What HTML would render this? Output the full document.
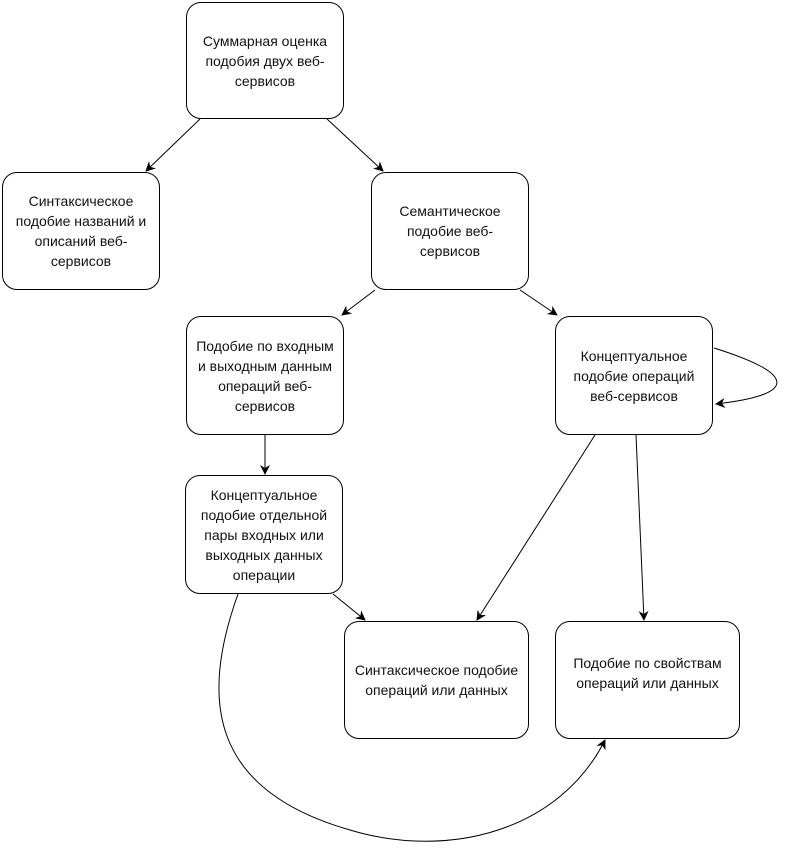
<!DOCTYPE html>
<html><head><meta charset="utf-8"><style>
body{margin:0;width:789px;height:858px;background:#fff;position:relative;overflow:hidden;font-family:"Liberation Sans",Arial,sans-serif;}
.b{position:absolute;box-sizing:border-box;border:1.5px solid #000;border-radius:15px;background:#fff;display:flex;align-items:center;justify-content:center;text-align:center;font-size:14px;line-height:20px;color:#111;padding:0 3px;}
svg{position:absolute;left:0;top:0;}
</style></head><body>
<svg width="789" height="858" viewBox="0 0 789 858">
<defs><marker id="a" markerWidth="10" markerHeight="10" refX="9" refY="5" orient="auto" markerUnits="userSpaceOnUse"><path d="M0,0 L10,5 L0,10 L3,5 z" fill="#000"/></marker></defs>
<g stroke="#000" stroke-width="1" fill="none" marker-end="url(#a)">
<line x1="200" y1="119" x2="146" y2="171"/>
<line x1="327" y1="119" x2="383" y2="171"/>
<line x1="375" y1="290" x2="342" y2="315"/>
<line x1="520" y1="290" x2="557" y2="315"/>
<line x1="265" y1="435" x2="265" y2="474"/>
<line x1="333" y1="594" x2="365" y2="620"/>
<line x1="595" y1="435" x2="477" y2="620"/>
<line x1="636" y1="435" x2="644" y2="620"/>
<path d="M714,348 C800,375 795,395 716,404"/>
<path d="M238,594 C200,700 210,790 350,830 C450,860 560,830 605,740"/>
</g>
</svg>
<div class="b" style="left:186px;top:2px;width:158px;height:117px">Суммарная оценка подобия двух веб-сервисов</div>
<div class="b" style="left:2px;top:172px;width:158px;height:118px">Синтаксическое подобие названий и описаний веб-сервисов</div>
<div class="b" style="left:371px;top:172px;width:158px;height:118px;padding:0 18px">Семантическое подобие веб-сервисов</div>
<div class="b" style="left:186px;top:316px;width:158px;height:119px;padding:0 6px">Подобие по входным и выходным данным операций веб-сервисов</div>
<div class="b" style="left:555px;top:316px;width:158px;height:119px">Концептуальное подобие операций веб-сервисов</div>
<div class="b" style="left:185px;top:475px;width:158px;height:119px;padding:0 2px">Концептуальное подобие отдельной пары входных или выходных данных операции</div>
<div class="b" style="left:344px;top:621px;width:185px;height:118px;padding:0 8px">Синтаксическое подобие операций или данных</div>
<div class="b" style="left:555px;top:621px;width:185px;height:118px;padding:0 4px 14px">Подобие по свойствам операций или данных</div>
</body></html>
